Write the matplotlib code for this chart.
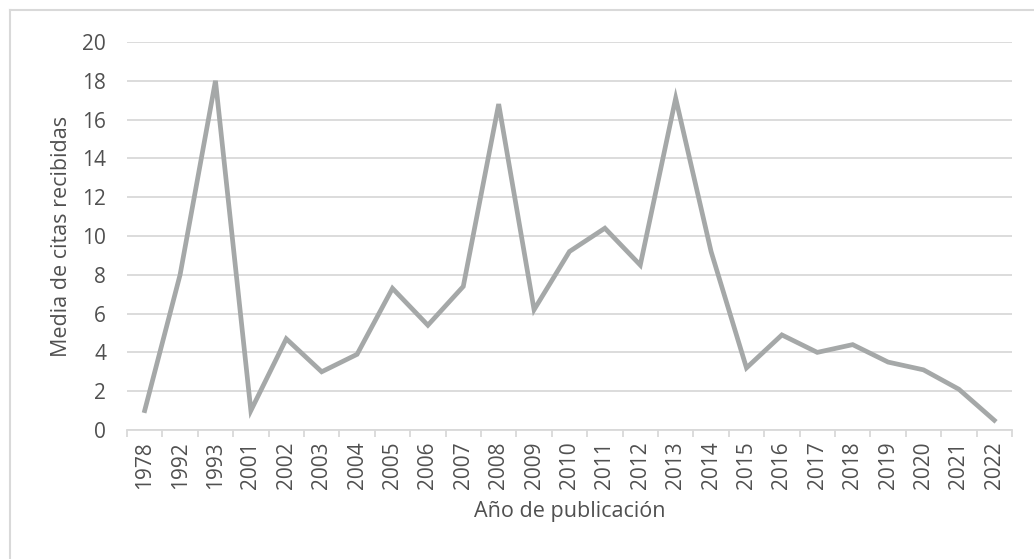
import matplotlib
matplotlib.use("Agg")
import matplotlib.pyplot as plt
import numpy as np

years = ["1978", "1992", "1993", "2001", "2002", "2003", "2004", "2005", "2006",
         "2007", "2008", "2009", "2010", "2011", "2012", "2013", "2014", "2015",
         "2016", "2017", "2018", "2019", "2020", "2021", "2022"]
media_citas = [1.0, 8.0, 18.0, 1.0, 4.7, 3.0, 3.9, 7.3, 5.4, 7.4, 16.8, 6.2, 9.2,
               10.4, 8.5, 17.1, 9.2, 3.2, 4.9, 4.0, 4.4, 3.5, 3.1, 2.1, 0.5]
y_ticks = [0, 2, 4, 6, 8, 10, 12, 14, 16, 18, 20]

plt.rcParams['font.family'] = ['Open Sans', 'DejaVu Sans']
text_col = "#505050"
grid_col = "#D9D9D9"

fig = plt.figure(figsize=(10.34, 5.59), dpi=100)
ax = fig.add_axes([0.1228, 0.2308, 0.8559, 0.6941])

x = np.arange(len(years))
ax.plot(x, media_citas, color="#A5A8A8", linewidth=3.4, solid_joinstyle="miter", zorder=3)

ax.set_xlim(-0.5, len(years) - 0.5)
ax.set_ylim(0, 20)
ax.set_yticks(y_ticks)
ax.set_xticks(x)
ax.set_xticklabels(years, rotation=90)
ax.set_xticks(np.arange(len(years) + 1) - 0.5, minor=True)

ax.grid(axis="y", color=grid_col, linewidth=1.3, zorder=0)
for s in ["top", "right", "left"]:
    ax.spines[s].set_visible(False)
ax.spines["bottom"].set_color(grid_col)
ax.spines["bottom"].set_linewidth(1.3)

ax.tick_params(axis="y", length=0, pad=15, labelsize=15, labelcolor=text_col)
ax.tick_params(axis="x", which="major", length=0, pad=8, labelsize=15, labelcolor=text_col)
ax.tick_params(axis="x", which="minor", length=5, width=1.3, color=grid_col)

ax.set_ylabel("Media de citas recibidas", fontsize=15.5, color=text_col, labelpad=7)
ax.set_xlabel("Año de publicación", fontsize=15.5, color=text_col, labelpad=9)

# chart frame (left and top edges only)
fig.add_artist(plt.Line2D([10/1034, 10/1034], [0, 1 - 10/559], color=grid_col, linewidth=1.5,
                          transform=fig.transFigure))
fig.add_artist(plt.Line2D([10/1034, 1], [1 - 10/559, 1 - 10/559], color=grid_col, linewidth=1.5,
                          transform=fig.transFigure))

fig.savefig("out.png", dpi=100)
